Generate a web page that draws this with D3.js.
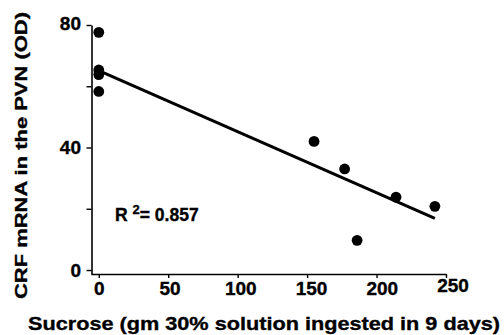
<!DOCTYPE html>
<html>
<head>
<meta charset="utf-8">
<script src="https://cdn.jsdelivr.net/npm/d3@7"></script>
<style>
  html, body { margin: 0; padding: 0; background: #fff; }
  svg { display: block; }
  text { font-family: "Liberation Sans", Arial, Helvetica, sans-serif; font-weight: bold; fill: #000; stroke: #000; stroke-width: 0.35px; }
</style>
</head>
<body>
<svg id="chart" width="504" height="335"></svg>
<script>
// ---- data ----
const sucrose = [0, 0, 0, 0, 155, 177, 186, 214, 242];
const crfMRNA = [77.6, 65.3, 63.8, 58.3, 42, 33, 9.7, 23.8, 20.8];
const fitX = [0, 242];
const fitY = [65.1, 16.9];
const xTicks = [0, 50, 100, 150, 200, 250];
const yTicks = [0, 20, 40, 60, 80];
const yLabelTicks = [0, 40, 80];
const xTitle = "Sucrose (gm 30%  solution ingested in 9 days)";
const yTitle = "CRF mRNA in the PVN (OD)";
const r2Label = "0.857";

// ---- layout ----
const svg = d3.select("#chart");
const x = d3.scaleLinear().domain([-5.6, 250]).range([91, 446]);
const y = d3.scaleLinear().domain([-1.3, 80]).range([274, 25]);

// x axis
const xAxis = svg.append("g")
  .attr("transform", "translate(0,274)")
  .call(d3.axisBottom(x).tickValues(xTicks).tickSize(4).tickSizeOuter(0).tickPadding(3.8));
xAxis.select(".domain").attr("stroke", "#000").attr("stroke-width", 1.6);
xAxis.selectAll(".tick line").attr("stroke", "#000").attr("stroke-width", 1.4);
xAxis.selectAll(".tick text")
  .attr("font-size", "19px")
  .attr("font-family", null)
  .attr("dx", d => (d * 0.026) + "px")
  .attr("y", d => d === 250 ? 4.6 : 7.4);

// y axis
const yAxis = svg.append("g")
  .attr("transform", "translate(91.5,0)")
  .call(d3.axisLeft(y).tickValues(yTicks).tickSize(5).tickSizeOuter(0).tickPadding(5.5)
    .tickFormat(d => yLabelTicks.includes(d) ? d : ""));
yAxis.select(".domain").attr("stroke", "#000").attr("stroke-width", 1.6);
yAxis.selectAll(".tick line").attr("stroke", "#000").attr("stroke-width", 1.4);
yAxis.selectAll(".tick text")
  .attr("font-size", "19px")
  .attr("font-family", null)
  .attr("dy", d => d === 80 ? "0.25em" : "0.34em");

// regression line
svg.append("path")
  .datum(fitX.map((v, i) => [v, fitY[i]]))
  .attr("fill", "none")
  .attr("stroke", "#000")
  .attr("stroke-width", 3)
  .attr("d", d3.line().x(d => x(d[0])).y(d => y(d[1])));

// points
svg.append("g").selectAll("circle")
  .data(sucrose.map((v, i) => [v, crfMRNA[i]]))
  .join("circle")
  .attr("cx", d => x(d[0]))
  .attr("cy", d => y(d[1]))
  .attr("r", 5.4)
  .attr("fill", "#000");

// R^2 annotation
const r2 = svg.append("text")
  .attr("x", 115)
  .attr("y", 221)
  .attr("font-size", "17.5px");
r2.append("tspan").text("R ");
r2.append("tspan").attr("dy", -7).attr("font-size", "13px").text("2");
r2.append("tspan").attr("dy", 7).text("= " + r2Label);

// axis titles
svg.append("text")
  .attr("x", 28)
  .attr("y", 330)
  .attr("font-size", "19px")
  .attr("textLength", 472)
  .attr("lengthAdjust", "spacingAndGlyphs")
  .text(xTitle);

svg.append("text")
  .attr("transform", "translate(27,299) rotate(-90)")
  .attr("x", 0)
  .attr("y", 0)
  .attr("font-size", "17px")
  .attr("textLength", 287)
  .attr("lengthAdjust", "spacingAndGlyphs")
  .text(yTitle);
</script>
</body>
</html>
